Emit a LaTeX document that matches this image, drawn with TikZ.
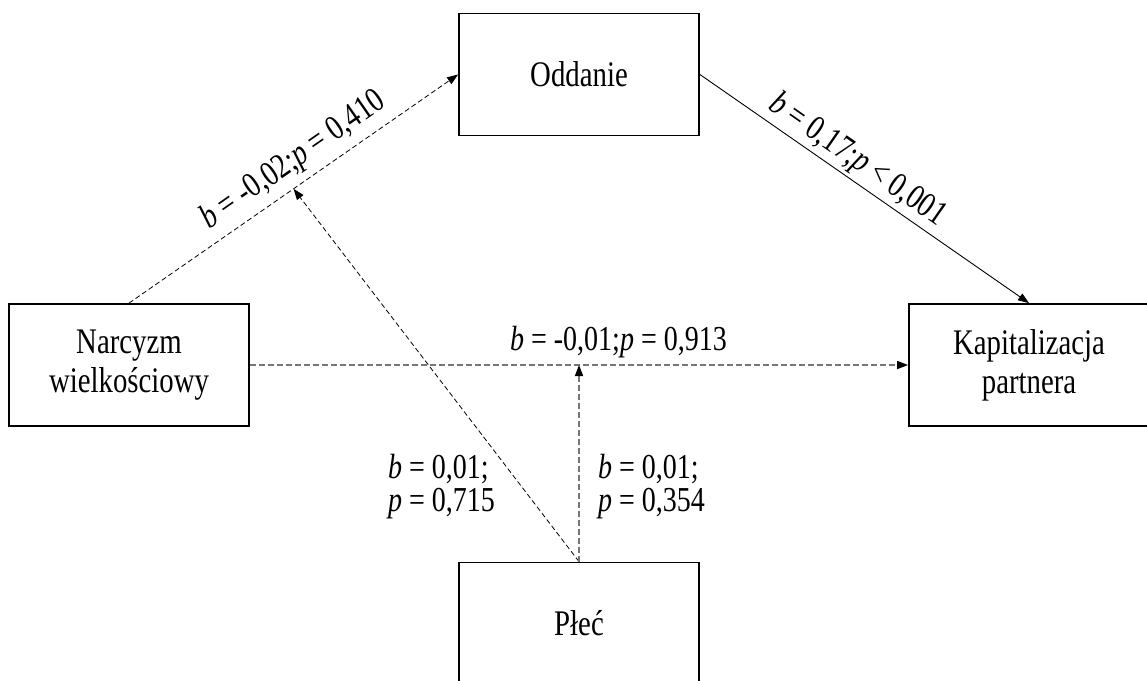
\documentclass[tikz,border=0pt]{standalone}
\usepackage{fontspec}
\setmainfont[FakeStretch=0.8]{Liberation Serif}
\usepackage{tikz}
\usetikzlibrary{positioning, arrows.meta}
\definecolor{dashgray}{RGB}{118,118,118}
\tikzstyle{block} = [rectangle, draw=black, line width=1.8pt, minimum width=240pt, minimum height=122pt, align=center, font=\fontsize{36}{39}\selectfont]
\tikzstyle{arrow} = [->, >={Triangle[length=11pt,width=8pt,color=black]}]
\tikzstyle{thindash} = [black, line width=0.8pt, dash pattern=on 5pt off 3pt]
\tikzstyle{graydash} = [dashgray, line width=1.6pt, dash pattern=on 6pt off 3pt]
\tikzstyle{coef} = [text=black, font=\fontsize{35}{33}\selectfont, inner sep=2pt, align=left]
\newcommand{\bp}[2]{\textit{b} = #1;\textit{p} #2}

\begin{document}
\begin{tikzpicture}[x=1pt, y=-1pt]
\useasboundingbox (0,0) rectangle (1147,680);
\node (narc) [block] at (129,365) {Narcyzm\\wielkościowy};
\node (kap) [block, right of=narc, node distance=900pt] {Kapitalizacja\\partnera};
\node (odd) [block, right of=narc, node distance=450pt, yshift=290.5pt] {Oddanie};
\node (plec) [block, below of=odd, node distance=549pt] {Płeć};
\draw [thindash, arrow] (narc.north) -- coordinate[pos=0.5] (m1)
  node [coef, pos=0.54, sloped, above=5pt] {\bp{-0,02}{= 0,410}} (odd.west);
\draw [arrow, line width=0.9pt] (odd.east) -- 
  node [coef, pos=0.445, sloped, above=1pt] {\bp{0,17}{< 0,001}} (kap.north);
\draw [graydash, arrow] (narc.east) -- coordinate[pos=0.5] (m2)
  node [coef, pos=0.56, above=4pt] {\bp{-0,01}{= 0,913}} (kap.west);
\draw [thindash, arrow] (plec.north) -- (m1);
\draw [graydash, arrow] (plec.north) -- (m2);
\node (lab715) [coef, anchor=north west] at (386,452) {\textit{b} = 0,01;\\\textit{p} = 0,715};
\node (lab354) [coef, anchor=north west] at (596,452) {\textit{b} = 0,01;\\\textit{p} = 0,354};
\end{tikzpicture}
\end{document}
